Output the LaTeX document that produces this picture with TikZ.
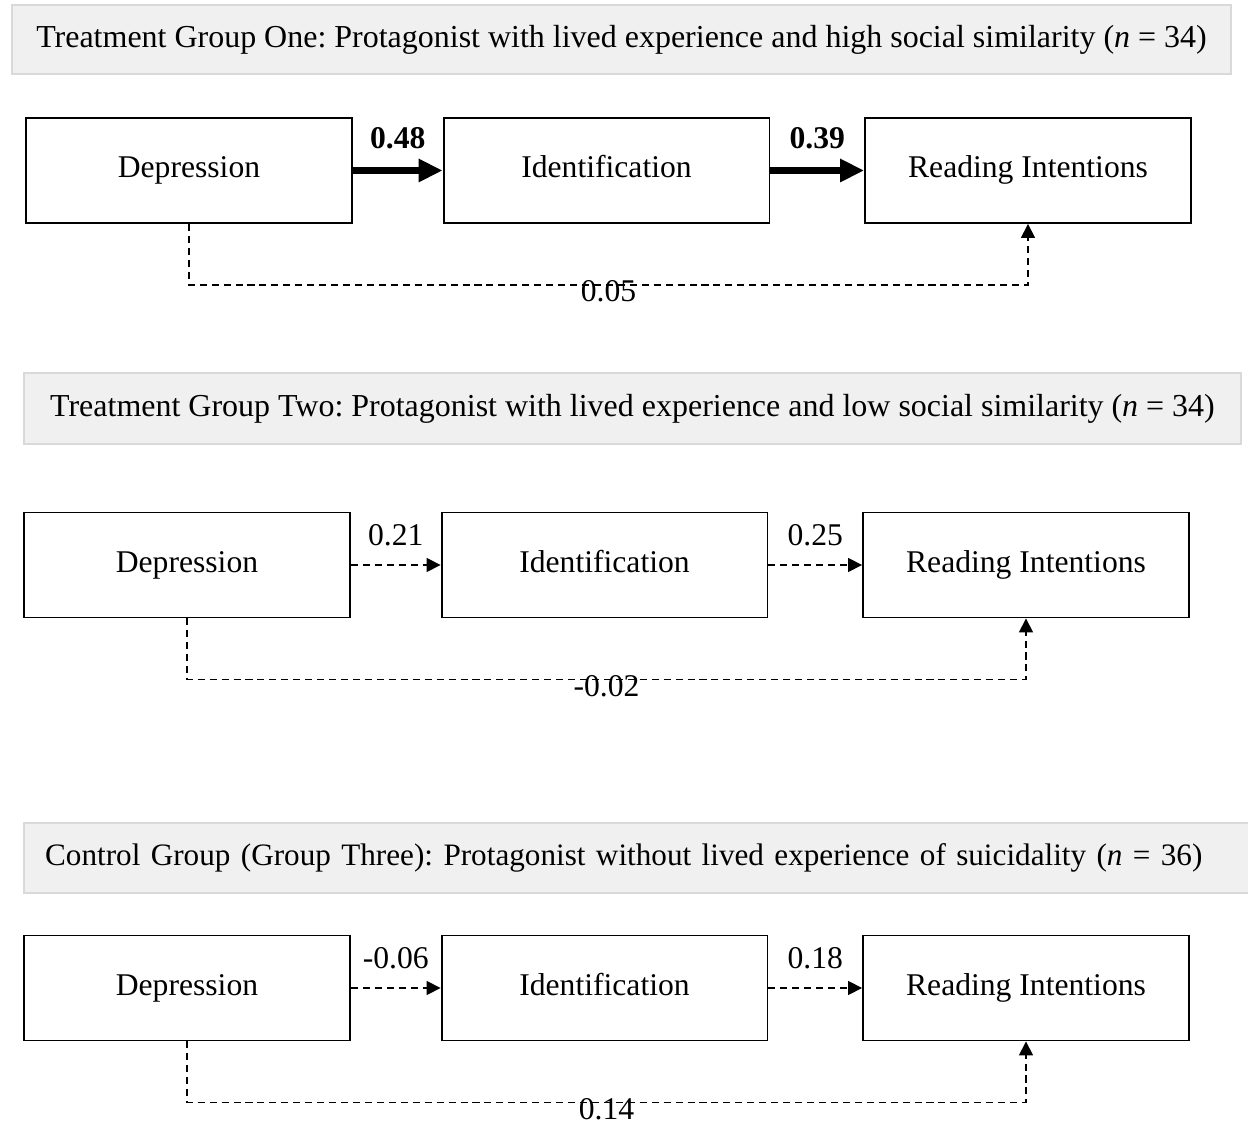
\documentclass[tikz,border=0pt]{standalone}
\usepackage{fontspec}
\setmainfont{Liberation Serif}
\usepackage{tikz}
\usetikzlibrary{arrows.meta}
\definecolor{titlefill}{HTML}{F0F0F0}
\definecolor{titleline}{HTML}{D9D9D9}
\frenchspacing

\begin{document}
\begin{tikzpicture}[x=0.02cm,y=-0.02cm,
    every node/.style={font=\fontsize{18}{21.6}\selectfont},
    var/.style={shape=rectangle,draw=black,line width=1.1pt,minimum width=6.52cm,minimum height=2.1cm,text height=1.0em,text depth=0.2em},
    grouptitle/.style={shape=rectangle,draw=titleline,fill=titlefill,line width=1.1pt,inner xsep=0.42cm,font=\fontsize{18.2}{21.8}\selectfont},
    sig/.style={-{Triangle[length=0.48cm,width=0.44cm]},line width=4.5pt},
    ns/.style={-{Triangle[length=0.28cm,width=0.28cm]},line width=0.9pt,dash pattern=on 4pt off 2.8pt},
    coef/.style={midway,above=0.36cm,inner sep=0pt},
    direct/.style={pos=0.25,below,inner sep=0pt,yshift=3pt}]
    \useasboundingbox (0,0) rectangle (1248,1124);

    \node[grouptitle,minimum width=24.38cm,minimum height=1.38cm] (t1) at (621.5,39.5) {Treatment Group One: Protagonist with lived experience and high social similarity (\textit{n} = 34)};
    \node[var] (d1) at (189,170.5) {Depression};
    \node[var] (i1) at (606.5,170.5) {Identification};
    \node[var] (r1) at (1028,170.5) {Reading Intentions};
    \path [sig] (d1) edge node[coef] {\textbf{0.48}} (i1);
    \path [sig] (i1) edge node[coef] {\textbf{0.39}} (r1);
    \draw [ns] (d1.south) -- ++(0,61) -| node[direct] {0.05} (r1.south);

    \node[grouptitle,minimum width=24.34cm,minimum height=1.42cm] (t2) at (632.5,408.5) {Treatment Group Two: Protagonist with lived experience and low social similarity (\textit{n} = 34)};
    \node[var] (d2) at (187,565) {Depression};
    \node[var] (i2) at (604.5,565) {Identification};
    \node[var] (r2) at (1026,565) {Reading Intentions};
    \path [ns] (d2) edge node[coef] {0.21} (i2);
    \path [ns] (i2) edge node[coef] {0.25} (r2);
    \draw [ns] (d2.south) -- ++(0,61) -| node[direct] {-0.02} (r2.south);

    \node[grouptitle,text width=23.96cm,align=left,minimum height=1.4cm,font=\fontsize{17.75}{21.3}\selectfont] (t3) at (644,858) {\mbox{Control Group (Group Three): Protagonist without lived experience of suicidality (\textit{n} = 36)}};
    \node[var] (d3) at (187,988) {Depression};
    \node[var] (i3) at (604.5,988) {Identification};
    \node[var] (r3) at (1026,988) {Reading Intentions};
    \path [ns] (d3) edge node[coef] {-0.06} (i3);
    \path [ns] (i3) edge node[coef] {0.18} (r3);
    \draw [ns] (d3.south) -- ++(0,61) -| node[direct] {0.14} (r3.south);
\end{tikzpicture}
\end{document}
